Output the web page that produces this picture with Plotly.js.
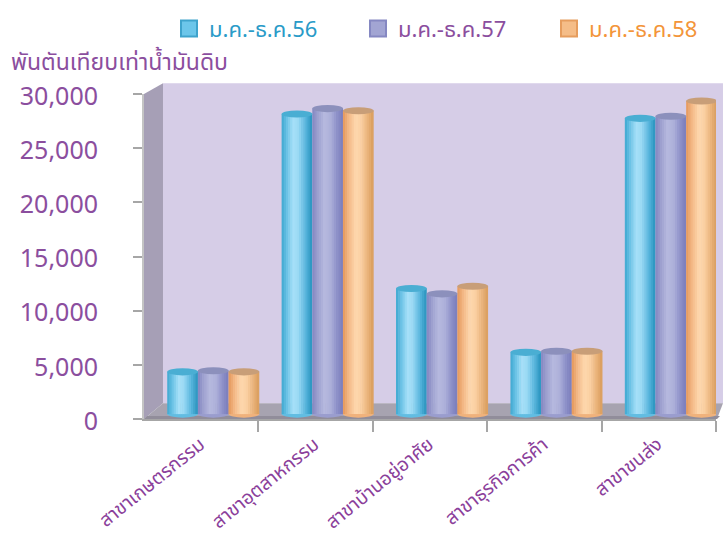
<!DOCTYPE html>
<html>
<head>
<meta charset="utf-8">
<script src="https://cdn.plot.ly/plotly-3.0.1.min.js"></script>
<style>
  html, body { margin: 0; padding: 0; background: #ffffff; }
  #chart { width: 723px; height: 536px; }
</style>
</head>
<body>
<div id="chart"></div>
<script>
// Oil consumption by sector (thousand tonnes of crude oil equivalent)
const categories = ['สาขาเกษตรกรรม', 'สาขาอุตสาหกรรม', 'สาขาบ้านอยู่อาศัย', 'สาขาธุรกิจการค้า', 'สาขาขนส่ง'];
const seriesNames = ['ม.ค.-ธ.ค.56', 'ม.ค.-ธ.ค.57', 'ม.ค.-ธ.ค.58'];
const values56 = [3900, 27700, 11600, 5700, 27300];
const values57 = [4000, 28200, 11100, 5800, 27500];
const values58 = [3900, 28000, 11800, 5800, 28900];
const yTickValues = [0, 5000, 10000, 15000, 20000, 25000, 30000];

const seriesValues = [values56, values57, values58];
const legendColors = ['#2a9bc8', '#8b4e9e', '#f3953a'];
const legendIds = ['legend', 'legend2', 'legend3'];

// cylinder shading: colour stops across the width of each column
const shading = [
  [[0, '#3ea7cf'], [0.18, '#6cc3e6'], [0.38, '#a6e0f8'], [0.55, '#9ad9f4'], [0.8, '#56b5dc'], [1, '#2893bd']],
  [[0, '#8386c1'], [0.18, '#9da0cf'], [0.4, '#b6b9de'], [0.6, '#adb0da'], [0.82, '#8d90c8'], [1, '#7a7dbc']],
  [[0, '#e4975a'], [0.18, '#f2b683'], [0.42, '#fed8ae'], [0.6, '#fbd0a2'], [0.82, '#eab37a'], [1, '#d99c5c']]
];
const topColors = ['#4aaed3', '#8c90bc', '#c89e78'];
const bodyColors = ['#62bde2', '#9a9dce', '#f0b27c'];
const legendSwatch = ['#6cc6ea', '#a2a5d3', '#f5bd88'];
const legendEdge = ['#3ea3cc', '#8588c2', '#e69d5e'];

// frame geometry (pixels)
const W = 723, H = 536;
const plotL = 144, plotR = 716, plotT = 88, plotB = 419;
const depthX = 19, depthY = 16;
const yMax = 30000;
const unitsPerPx = yMax / (plotB - plotT);
const baseLift = 5 * unitsPerPx;        // columns stand a little behind the front edge
const xMin = -0.603, xMax = xMin + 5;
const colW = 0.264;                       // column width in category units
const colStep = 0.268;
const strips = 14;

function hexToRgb(h) {
  return [parseInt(h.slice(1, 3), 16), parseInt(h.slice(3, 5), 16), parseInt(h.slice(5, 7), 16)];
}
function sampleColor(stops, t) {
  for (let i = 1; i < stops.length; i++) {
    if (t <= stops[i][0]) {
      const a = stops[i - 1], b = stops[i];
      const f = (t - a[0]) / (b[0] - a[0]);
      const ca = hexToRgb(a[1]), cb = hexToRgb(b[1]);
      const c = ca.map((v, k) => Math.round(v + (cb[k] - v) * f));
      return 'rgb(' + c.join(',') + ')';
    }
  }
  return stops[stops.length - 1][1];
}

const xIdx = categories.map((_, i) => i);
const boundaryTicks = xIdx.map(i => i + xMax - 4);
const shapes = [];

const px2paperX = p => (p - plotL) / (plotR - plotL);
const px2paperY = p => (plotB - p) / (plotB - plotT);
function paperPath(points) {
  return 'M' + points.map(p => px2paperX(p[0]).toFixed(4) + ',' + px2paperY(p[1]).toFixed(4)).join('L') + 'Z';
}

// back wall, side wall and floor of the 3-D frame
shapes.push({ type: 'path', xref: 'paper', yref: 'paper', layer: 'below', line: { width: 0 }, fillcolor: '#d6cde7',
  path: paperPath([[plotL + depthX, plotT - 11], [W, plotT - 11], [W, plotB - depthY], [plotL + depthX, plotB - depthY]]) });
shapes.push({ type: 'path', xref: 'paper', yref: 'paper', layer: 'below', line: { width: 0 }, fillcolor: '#a69fb6',
  path: paperPath([[plotL, plotT], [plotL + depthX, plotT - 11], [plotL + depthX, plotB - depthY], [plotL, plotB]]) });
shapes.push({ type: 'path', xref: 'paper', yref: 'paper', layer: 'below', line: { width: 0 }, fillcolor: '#a7a3b0',
  path: paperPath([[plotL, plotB], [plotL + depthX, plotB - depthY], [W, plotB - depthY], [plotR + 1, plotB]]) });
shapes.push({ type: 'path', xref: 'paper', yref: 'paper', layer: 'below', line: { width: 0 }, fillcolor: '#918d9a',
  path: paperPath([[plotL + 3, plotB - 3], [W - 3, plotB - 3], [plotR + 1, plotB], [plotL, plotB]]) });

// invisible trace that anchors the value axis carrying the tick labels
const traces = [{
  type: 'scatter', mode: 'markers', x: [null], y: [null], yaxis: 'y',
  showlegend: false, hoverinfo: 'skip'
}];

const ry = 3.6 * unitsPerPx;

seriesValues.forEach((vals, s) => {
  const centerOff = (s - 1) * colStep;
  const left = centerOff - colW / 2;
  const sw = colW / strips;
  // legend entry for the series
  traces.push({
    type: 'scatter', mode: 'markers', x: [null], y: [null], yaxis: 'y2',
    marker: { symbol: 'square', size: 16, color: legendSwatch[s], line: { width: 2, color: legendEdge[s] } },
    name: '<span style="color:' + legendColors[s] + '">' + seriesNames[s] + '</span>',
    legend: legendIds[s], showlegend: true, hoverinfo: 'skip'
  });
  for (let k = 0; k < strips; k++) {
    traces.push({
      type: 'bar',
      x: xIdx,
      y: vals,
      base: 0,
      yaxis: 'y2',
      width: sw * 1.25,
      offset: left + k * sw,
      marker: { color: sampleColor(shading[s], (k + 0.5) / strips), line: { width: 0 } },
      name: seriesNames[s],
      showlegend: false,
      hoverinfo: k === Math.floor(strips / 2) ? 'y+name' : 'skip'
    });
  }
  vals.forEach((v, i) => {
    const x0 = i + left, x1 = i + left + colW * 1.02;
    // rounded bottom and elliptical top of each cylinder
    shapes.push({ type: 'circle', xref: 'x', yref: 'y2', layer: 'below', line: { width: 0 }, fillcolor: bodyColors[s],
      x0: x0, x1: x1, y0: -ry, y1: ry });
    shapes.push({ type: 'circle', xref: 'x', yref: 'y2', layer: 'above', line: { width: 0 }, fillcolor: topColors[s],
      x0: x0, x1: x1, y0: v - ry, y1: v + ry });
  });
});

const thaiFont = '"Noto Sans Thai", "Noto Sans Thai UI", Loma, Garuda, Tahoma, "Noto Sans", sans-serif';
const legendX = [169, 358, 549];

function legendBox(i) {
  return {
    orientation: 'h', x: px2paperX(legendX[i]), y: px2paperY(0), xanchor: 'left', yanchor: 'top',
    font: { size: 22, family: thaiFont }, itemwidth: 30, itemsizing: 'trace',
    bgcolor: 'rgba(0,0,0,0)'
  };
}

const layout = {
  width: W, height: H,
  autosize: false,
  margin: { l: plotL, r: W - plotR, t: plotT, b: H - plotB, pad: 0 },
  paper_bgcolor: '#ffffff',
  plot_bgcolor: 'rgba(0,0,0,0)',
  barmode: 'overlay',
  font: { family: thaiFont, color: '#8b4e9e' },
  showlegend: true,
  legend: legendBox(0),
  legend2: legendBox(1),
  legend3: legendBox(2),
  xaxis: {
    range: [xMin, xMax],
    tickmode: 'array', tickvals: xIdx, ticktext: categories,
    tickangle: -39, ticks: '',
    tickfont: { size: 19, color: '#8b3f9b', family: thaiFont },
    ticklabelshift: -13, ticklabelstandoff: 5,
    showline: true, linecolor: '#a6a6a6', linewidth: 2,
    showgrid: false, zeroline: false, fixedrange: true,
    minor: { tickmode: 'array', tickvals: boundaryTicks, ticks: 'outside', ticklen: 11, tickwidth: 2, tickcolor: '#a6a6a6', showgrid: false }
  },
  yaxis: {
    range: [0, yMax],
    tickmode: 'array', tickvals: yTickValues, tickformat: ',d',
    ticks: 'outside', ticklen: 9, tickwidth: 2, tickcolor: '#a6a6a6',
    tickfont: { size: 25, color: '#8b4e9e', family: thaiFont },
    ticklabelstandoff: 30, ticklabelshift: 2,
    showline: true, linecolor: '#c4c4c4', linewidth: 2,
    showgrid: false, zeroline: false, fixedrange: true
  },
  yaxis2: {
    overlaying: 'y', range: [-baseLift, yMax - baseLift],
    showticklabels: false, showline: false, showgrid: false, zeroline: false, ticks: '', fixedrange: true
  },
  shapes: shapes,
  annotations: [{
    text: 'พันตันเทียบเท่าน้ำมันดิบ',
    xref: 'paper', yref: 'paper', x: px2paperX(9), y: px2paperY(56),
    xanchor: 'left', yanchor: 'middle', showarrow: false,
    font: { size: 23, color: '#8b4e9e', family: thaiFont }
  }]
};

Plotly.newPlot('chart', traces, layout, { displayModeBar: false, staticPlot: true });
</script>
</body>
</html>
